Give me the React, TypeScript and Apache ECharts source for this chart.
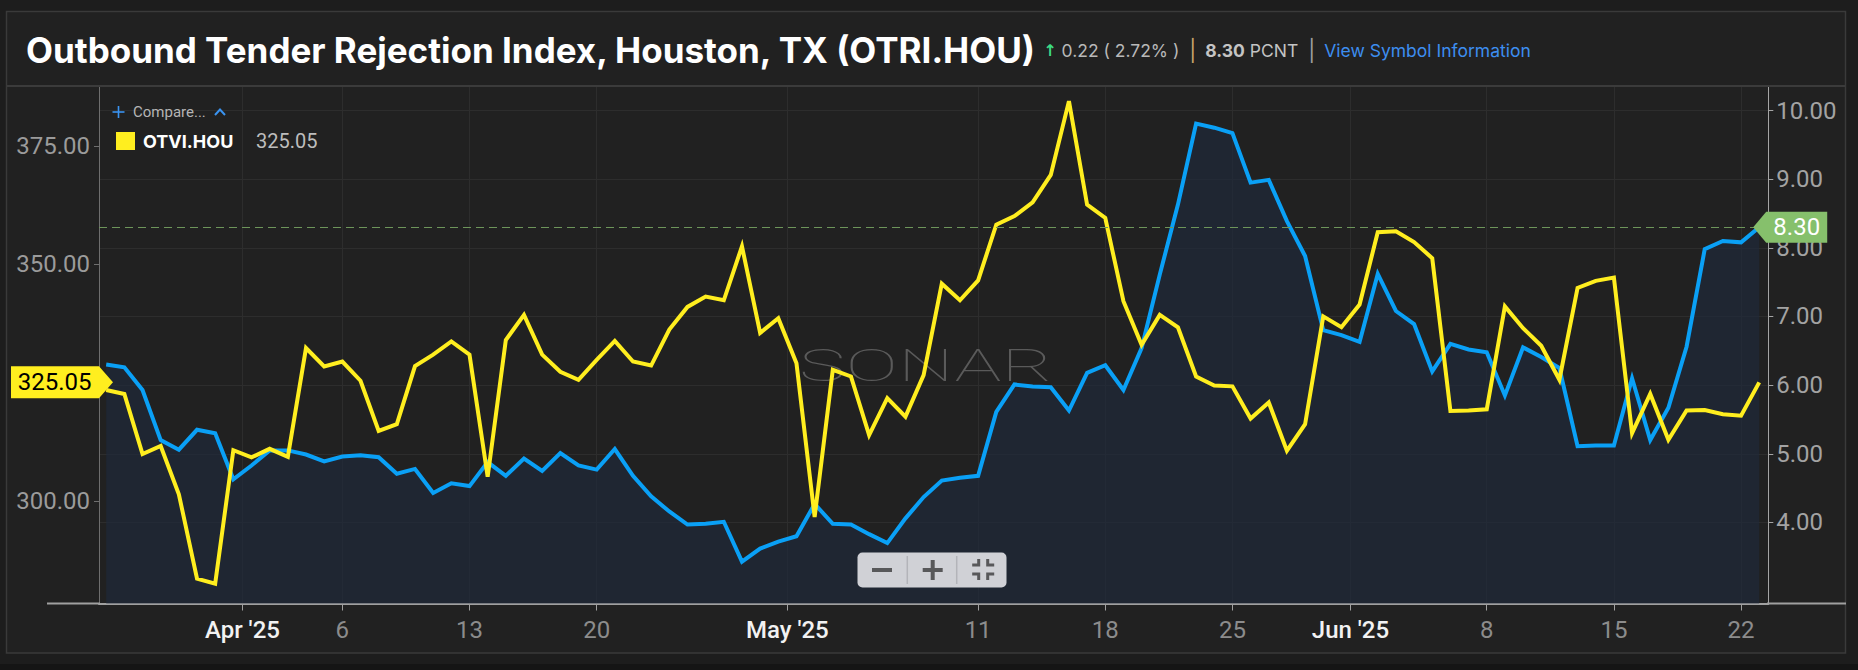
import React, { useEffect, useRef } from "react";
import * as echarts from "echarts";

// ---------------- data ----------------
const START_DATE = "2025-03-24";

// OTRI.HOU (Outbound Tender Rejection Index, %), right axis
const otriValues = [
  6.30, 6.26, 5.93, 5.20, 5.06, 5.35, 5.30, 4.63, 4.83, 5.05,
  5.05, 4.99, 4.89, 4.96, 4.98, 4.95, 4.71, 4.78, 4.43, 4.57,
  4.53, 4.88, 4.68, 4.93, 4.75, 5.01, 4.83, 4.77, 5.07, 4.68,
  4.38, 4.16, 3.97, 3.98, 4.01, 3.43, 3.62, 3.72, 3.80, 4.27,
  3.98, 3.97, 3.83, 3.70, 4.06, 4.37, 4.61, 4.65, 4.68, 5.61,
  6.01, 5.98, 5.97, 5.63, 6.18, 6.29, 5.93, 6.54, 7.61, 8.63,
  9.81, 9.75, 9.67, 8.95, 8.99, 8.39, 7.88, 6.80, 6.73, 6.63,
  7.62, 7.08, 6.89, 6.20, 6.60, 6.52, 6.48, 5.85, 6.55, 6.41,
  6.25, 5.11, 5.12, 5.12, 6.10, 5.20, 5.67, 6.56, 7.98, 8.10,
  8.08, 8.30,
];

// OTVI.HOU (Outbound Tender Volume Index), left axis
const otviValues = [
  323.45, 322.6, 309.9, 311.6, 301.4, 283.55, 282.5, 310.7, 309.2, 311.0,
  309.3, 332.3, 328.4, 329.45, 325.4, 314.8, 316.2, 328.5, 330.9, 333.7,
  330.9, 305.1, 334.0, 339.3, 330.9, 327.3, 325.6, 329.8, 333.8, 329.45,
  328.6, 336.2, 341.0, 343.2, 342.4, 353.8, 335.5, 338.6, 329.1, 296.6,
  327.7, 326.3, 313.9, 321.7, 317.8, 326.6, 345.9, 342.4, 346.6, 358.4,
  360.2, 363.1, 368.9, 384.5, 362.6, 359.8, 342.2, 333.0, 339.3, 336.7,
  326.3, 324.4, 324.2, 317.4, 320.8, 310.6, 316.2, 339.0, 336.7, 341.5,
  356.8, 357.0, 354.7, 351.3, 319.0, 319.1, 319.35, 341.1, 336.5, 332.8,
  325.6, 345.0, 346.5, 347.2, 314.3, 322.6, 312.9, 319.1, 319.2, 318.3,
  318.0, 325.05,
];

const monthTickDates = ["2025-04-01", "2025-05-01", "2025-06-01"];
const monthTickLabels = ["Apr '25", "May '25", "Jun '25"];
const weekTickDates = [
  "2025-04-06", "2025-04-13", "2025-04-20",
  "2025-05-11", "2025-05-18", "2025-05-25",
  "2025-06-08", "2025-06-15", "2025-06-22",
];
const leftAxisTicks = [300, 350, 375];
const rightAxisTicks = [4, 5, 6, 7, 8, 9, 10];

const otriChange = "0.22";
const otriChangePct = "2.72%";
const otriUnit = "PCNT";

// ---------------- helpers ----------------
const DAY = 86400000;
const startMs = Date.parse(START_DATE + "T00:00:00Z");
const dates = otriValues.map((_, i) => new Date(startMs + i * DAY).toISOString().slice(0, 10));
const dayIndex = (d: string) => Math.round((Date.parse(d + "T00:00:00Z") - startMs) / DAY);

const xTicks = [
  ...monthTickDates.map((d, i) => ({ pos: dayIndex(d) - 0.5, label: monthTickLabels[i], month: true })),
  ...weekTickDates.map((d) => ({ pos: dayIndex(d), label: String(Number(d.slice(8))), month: false })),
].sort((a, b) => a.pos - b.pos);
const xTickPositions = xTicks.map((t) => t.pos);

const otriData = otriValues.map((v, i) => [i, v]);
const otviData = otviValues.map((v, i) => [i, v]);
const lastOtri = otriValues[otriValues.length - 1];
const lastOtvi = otviValues[otviValues.length - 1];

const BLUE = "#0aa0f6";
const YELLOW = "#ffee1f";
const GRID_LINE = "#2d2d2d";

const buildOption = () => {
  const graphics: any[] = [
    // outer page strips & frame
    { type: "rect", z: 1, silent: true, shape: { x: 0, y: 0, width: 1858, height: 11 }, style: { fill: "#1d1d1d" } },
    { type: "rect", z: 1, silent: true, shape: { x: 0, y: 0, width: 6, height: 670 }, style: { fill: "#1d1d1d" } },
    { type: "rect", z: 1, silent: true, shape: { x: 1846, y: 0, width: 12, height: 670 }, style: { fill: "#1d1d1d" } },
    { type: "rect", z: 1, silent: true, shape: { x: 0, y: 653, width: 1858, height: 17 }, style: { fill: "#1d1d1d" } },
    { type: "rect", z: 1, silent: true, shape: { x: 0, y: 664, width: 1858, height: 6 }, style: { fill: "#151515" } },
    { type: "rect", z: 1, silent: true, shape: { x: 6.5, y: 11.5, width: 1839, height: 641.5 }, style: { fill: "none", stroke: "#3a3a3a", lineWidth: 1.5 } },
    { type: "line", z: 1, silent: true, shape: { x1: 7, y1: 86, x2: 1845, y2: 86 }, style: { stroke: "#3b3b3b", lineWidth: 2 } },
    // x axis line extensions
    { type: "line", z: 5, silent: true, shape: { x1: 47, y1: 603.5, x2: 100, y2: 603.5 }, style: { stroke: "#a0a0a0", lineWidth: 2 } },
    { type: "line", z: 5, silent: true, shape: { x1: 1767, y1: 603.5, x2: 1846, y2: 603.5 }, style: { stroke: "#a0a0a0", lineWidth: 2 } },
    // title bar
    {
      type: "text", z: 10, x: 26, y: 50, silent: true,
      style: {
        align: "left", verticalAlign: "middle",
        text:
          "{t|Outbound Tender Rejection Index, Houston, TX (OTRI.HOU)}{a|↑}{v|" + otriChange + " ( " + otriChangePct + " )}{s1||}{b|" +
          lastOtri.toFixed(2) + "}{p|" + otriUnit + "}{s2||}{l|View Symbol Information}",
        rich: {
          t: { fontFamily: "Inter", fontSize: 35, fontWeight: 700, fill: "#ffffff", verticalAlign: "middle" },
          a: { fontFamily: "DejaVu Sans", fontSize: 16, fontWeight: "bold", fill: "#3ddc84", padding: [0, 5, 0, 6], verticalAlign: "middle" },
          v: { fontFamily: "Inter", fontSize: 17.5, fill: "#b9b9b9", verticalAlign: "middle" },
          s1: { fontFamily: "Inter", fontSize: 21, fill: "#c9a66b", padding: [0, 9, 0, 10], verticalAlign: "middle" },
          b: { fontFamily: "Inter", fontSize: 17.5, fontWeight: 700, fill: "#c4c4c4", verticalAlign: "middle" },
          p: { fontFamily: "Inter", fontSize: 17.5, fill: "#c4c4c4", padding: [0, 0, 0, 5], verticalAlign: "middle" },
          s2: { fontFamily: "Inter", fontSize: 21, fill: "#a0a0a0", padding: [0, 9, 0, 10], verticalAlign: "middle" },
          l: { fontFamily: "Inter", fontSize: 17.5, fill: "#3d8ef0", verticalAlign: "middle" },
        },
      },
    },
    // legend / compare
    { type: "line", z: 10, silent: true, shape: { x1: 112.5, y1: 112, x2: 124.5, y2: 112 }, style: { stroke: "#3a93f0", lineWidth: 1.6 } },
    { type: "line", z: 10, silent: true, shape: { x1: 118.5, y1: 106, x2: 118.5, y2: 118 }, style: { stroke: "#3a93f0", lineWidth: 1.6 } },
    { type: "text", z: 10, x: 133, y: 112, silent: true, style: { text: "Compare...", fill: "#b5b5b5", fontSize: 15, fontFamily: "Roboto", align: "left", verticalAlign: "middle" } },
    { type: "polyline", z: 10, silent: true, shape: { points: [[215, 115], [220, 109.5], [225, 115]] }, style: { stroke: "#3a93f0", fill: "none", lineWidth: 2 } },
    { type: "rect", z: 10, silent: true, shape: { x: 116, y: 132, width: 19, height: 18 }, style: { fill: YELLOW } },
    { type: "text", z: 10, x: 143, y: 141, silent: true, style: { text: "OTVI.HOU", fill: "#ffffff", fontSize: 18, fontWeight: 700, fontFamily: "Inter", align: "left", verticalAlign: "middle" } },
    { type: "text", z: 10, x: 256, y: 141, silent: true, style: { text: lastOtvi.toFixed(2), fill: "#bdbdbd", fontSize: 20, fontFamily: "Roboto", align: "left", verticalAlign: "middle" } },
    // watermark
    {
      type: "text", z: 1, x: 926, y: 366, scaleX: 1.75, silent: true,
      style: {
        text: "SONAR", align: "center", verticalAlign: "middle",
        fontFamily: "Roboto", fontWeight: 100, fontSize: 45, fill: "#5a5a5a",
      },
    },
    // zoom buttons
    { type: "rect", z: 20, silent: true, shape: { x: 857.5, y: 552.5, width: 149, height: 35, r: 5 }, style: { fill: "#d0d1d6" } },
    { type: "line", z: 21, silent: true, shape: { x1: 907.3, y1: 556, x2: 907.3, y2: 584 }, style: { stroke: "#b3b4b9", lineWidth: 1.5 } },
    { type: "line", z: 21, silent: true, shape: { x1: 956.7, y1: 556, x2: 956.7, y2: 584 }, style: { stroke: "#b3b4b9", lineWidth: 1.5 } },
    { type: "line", z: 21, silent: true, shape: { x1: 872, y1: 570, x2: 892, y2: 570 }, style: { stroke: "#58585a", lineWidth: 4 } },
    { type: "line", z: 21, silent: true, shape: { x1: 922.7, y1: 570, x2: 942.7, y2: 570 }, style: { stroke: "#58585a", lineWidth: 4 } },
    { type: "line", z: 21, silent: true, shape: { x1: 932.7, y1: 560, x2: 932.7, y2: 580 }, style: { stroke: "#58585a", lineWidth: 4 } },
    ...[[-1, -1], [1, -1], [-1, 1], [1, 1]].map(([sx, sy]) => ({
      type: "polyline", z: 21, silent: true,
      shape: { points: [[983.2 + sx * 4.5, 569.5 + sy * 10.5], [983.2 + sx * 4.5, 569.5 + sy * 4.5], [983.2 + sx * 11, 569.5 + sy * 4.5]] },
      style: { stroke: "#58585a", fill: "none", lineWidth: 3 },
    })),
  ];

  return {
    animation: false,
    backgroundColor: "#212121",
    textStyle: { fontFamily: "Roboto" },
    grid: { left: 99, right: 89.7, top: 86, bottom: 66.5, containLabel: false },
    xAxis: {
      type: "value",
      min: -0.396,
      max: 91.5,
      axisLine: { show: true, onZero: false, lineStyle: { color: "#a0a0a0", width: 2 } },
      axisTick: { show: true, customValues: xTickPositions, length: 7, lineStyle: { color: "#a0a0a0", width: 1 } },
      axisLabel: {
        customValues: xTickPositions,
        margin: 14,
        formatter: (v: number) => {
          const t = xTicks.find((k) => Math.abs(k.pos - v) < 1e-6);
          if (!t) return "";
          return t.month ? "{m|" + t.label + "}" : "{d|" + t.label + "}";
        },
        rich: {
          m: { color: "#f2f2f2", fontSize: 24, fontWeight: 500, fontFamily: "Roboto" },
          d: { color: "#8c8c8c", fontSize: 24, fontFamily: "Roboto" },
        },
      },
      splitLine: { show: true, lineStyle: { color: GRID_LINE, width: 1 } },
    },
    yAxis: [
      {
        type: "value",
        position: "left",
        min: 278.3,
        max: 387.7,
        axisLine: { show: true, onZero: false, lineStyle: { color: "#6e6e6e", width: 1 } },
        axisTick: { show: true, customValues: leftAxisTicks, length: 5, lineStyle: { color: "#6e6e6e" } },
        axisLabel: { customValues: leftAxisTicks, formatter: (v: number) => v.toFixed(2), color: "#9b9b9b", fontSize: 24, margin: 9 },
        splitLine: { show: false },
      },
      {
        type: "value",
        position: "right",
        min: 2.82,
        max: 10.357,
        axisLine: { show: true, onZero: false, lineStyle: { color: "#a5a5a5", width: 1 } },
        axisTick: { show: true, customValues: rightAxisTicks, length: 5, lineStyle: { color: "#a5a5a5" } },
        axisLabel: { customValues: rightAxisTicks, formatter: (v: number) => v.toFixed(2), color: "#a3a3a3", fontSize: 24, margin: 8 },
        splitLine: { show: true, lineStyle: { color: GRID_LINE, width: 1 } },
      },
    ],
    series: [
      {
        name: "OTRI.HOU",
        type: "line",
        xAxisIndex: 0,
        yAxisIndex: 1,
        data: otriData,
        symbol: "none",
        showSymbol: false,
        z: 2,
        lineStyle: { color: BLUE, width: 4, join: "miter", miterLimit: 10 },
        itemStyle: { color: BLUE },
        areaStyle: { color: "rgba(29,42,61,0.86)", origin: "start" },
        markLine: {
          silent: true,
          symbol: "none",
          animation: false,
          label: { show: false },
          lineStyle: { type: [8, 5], color: "#6d955a", width: 1 },
          data: [{ yAxis: lastOtri }],
        },
        markPoint: {
          silent: true,
          animation: false,
          data: [
            {
              coord: [otriValues.length - 1, lastOtri],
              symbol: "path://M0,15.5L13,0L74,0L74,31L13,31Z",
              symbolSize: [74, 31],
              symbolOffset: [31, 0],
              itemStyle: { color: "#86c06c" },
              label: {
                show: true,
                position: "inside",
                offset: [6.5, 0],
                formatter: () => lastOtri.toFixed(2),
                color: "#ffffff",
                fontSize: 24,
                fontFamily: "Roboto",
              },
            },
          ],
        },
      },
      {
        name: "OTVI.HOU",
        type: "line",
        xAxisIndex: 0,
        yAxisIndex: 0,
        data: otviData,
        symbol: "none",
        showSymbol: false,
        z: 3,
        lineStyle: { color: YELLOW, width: 4, join: "miter", miterLimit: 10 },
        itemStyle: { color: YELLOW },
        markPoint: {
          silent: true,
          animation: false,
          data: [
            {
              coord: [0, lastOtvi],
              symbol: "path://M0,0L88,0L102,16L88,32L0,32Z",
              symbolSize: [102, 32],
              symbolOffset: [-44.2, 0],
              itemStyle: { color: YELLOW },
              label: {
                show: true,
                position: "inside",
                offset: [-7.3, 0],
                formatter: () => lastOtvi.toFixed(2),
                color: "#000000",
                fontSize: 24,
                fontFamily: "Roboto",
              },
            },
          ],
        },
      },
    ],
    graphic: { elements: graphics },
  };
};

export default function App() {
  const ref = useRef<HTMLDivElement>(null);
  useEffect(() => {
    if (!ref.current) return;
    const chart = echarts.init(ref.current, null, { renderer: "svg" });
    chart.setOption(buildOption() as any);
    return () => chart.dispose();
  }, []);
  return (
    <div
      ref={ref}
      data-dates={dates.length}
      style={{ position: "absolute", left: 0, top: 0, width: 1858, height: 670, background: "#1d1d1d" }}
    />
  );
}
